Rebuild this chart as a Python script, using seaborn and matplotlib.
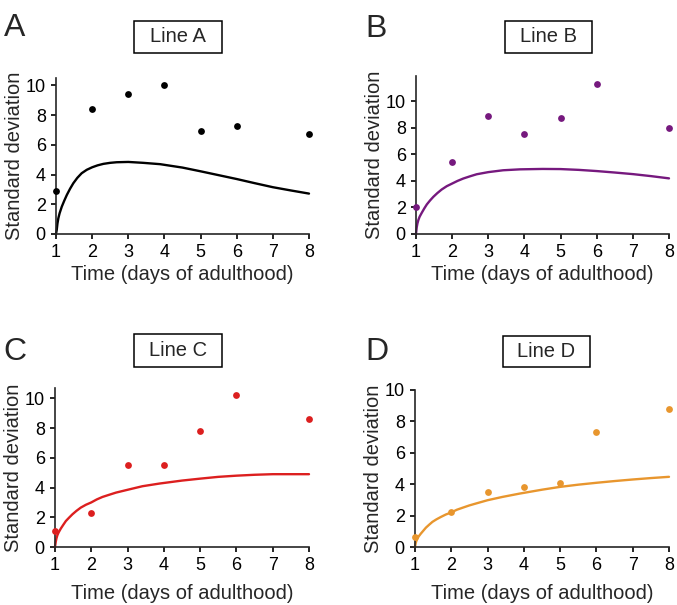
import matplotlib
matplotlib.use("Agg")
import matplotlib.pyplot as plt
from matplotlib.patches import Rectangle
import pandas as pd
import seaborn as sns

# Measured points (standard deviation per day)
days = [1, 2, 3, 4, 5, 6, 8]
sd_a = [2.9, 8.4, 9.4, 10.0, 6.9, 7.3, 6.7]
sd_b = [2.0, 5.4, 8.9, 7.5, 8.7, 11.3, 8.0]
sd_c = [1.1, 2.3, 5.5, 5.5, 7.8, 10.2, 8.6]
sd_d = [0.65, 2.2, 3.5, 3.8, 4.1, 7.3, 8.8]

# Model curves
curve_x = [1.0, 1.02, 1.04, 1.065, 1.1, 1.16, 1.23, 1.3, 1.39, 1.48, 1.59,
           1.71, 1.85, 2.0, 2.15, 2.31, 2.5, 2.68, 3.0, 3.41, 3.88, 4.5,
           5.0, 5.5, 6.0, 6.5, 7.0, 7.5, 8.0]
fit_a = [0, 0.27, 0.7, 1.06, 1.4, 1.84, 2.25, 2.63, 3.05, 3.42, 3.78,
         4.09, 4.32, 4.49, 4.62, 4.72, 4.79, 4.83, 4.85, 4.79, 4.70, 4.47,
         4.22, 3.96, 3.70, 3.42, 3.15, 2.93, 2.72]
fit_b = [0, 0.5, 0.8, 1.05, 1.3, 1.6, 1.93, 2.23, 2.53, 2.8, 3.08,
         3.35, 3.6, 3.8, 4.0, 4.18, 4.35, 4.5, 4.66, 4.8, 4.87, 4.9,
         4.89, 4.83, 4.74, 4.63, 4.51, 4.36, 4.19]
fit_c = [0, 0.34, 0.58, 0.79, 0.98, 1.24, 1.5, 1.75, 1.98, 2.2, 2.43,
         2.65, 2.84, 3.0, 3.2, 3.37, 3.52, 3.66, 3.85, 4.09, 4.27, 4.47,
         4.6, 4.72, 4.8, 4.86, 4.9, 4.9, 4.9]
fit_d = [0, 0.26, 0.4, 0.53, 0.67, 0.85, 1.04, 1.23, 1.42, 1.6, 1.76,
         1.91, 2.07, 2.2, 2.37, 2.5, 2.65, 2.77, 2.98, 3.19, 3.4, 3.65,
         3.83, 3.97, 4.09, 4.2, 4.3, 4.39, 4.47]

letters = ["A", "B", "C", "D"]
titles = ["Line A", "Line B", "Line C", "Line D"]
colors = ["#000000", "#76197e", "#dc1f1f", "#e8962e"]
points = [sd_a, sd_b, sd_c, sd_d]
fits = [fit_a, fit_b, fit_c, fit_d]
ytops = [10.5, 11.9, 10.7, 10.0]

sns.set_style("ticks")
plt.rcParams['font.family'] = ['Liberation Sans', 'DejaVu Sans']
plt.rcParams['axes.linewidth'] = 1.2
plt.rcParams['xtick.major.width'] = 1.2
plt.rcParams['ytick.major.width'] = 1.2
plt.rcParams['xtick.major.size'] = 3.8
plt.rcParams['ytick.major.size'] = 3.8

W, H = 677, 605
fig = plt.figure(figsize=(W / 100, H / 100), dpi=100)

# axes boxes in pixels: left, right, y0 (bottom), top
boxes = [(56, 309, 234, 78), (416, 669, 234, 76),
         (55, 309, 547, 388), (415, 669, 547, 390)]
# title boxes in pixels: x0, x1, y0, y1
title_boxes = [(134, 222, 21, 53), (505, 592, 21, 53),
               (134, 222, 334, 367), (503, 590, 336, 367)]
letter_pos = [(4, 36), (365, 37), (3, 360), (365, 360)]
xlabel_pads = [3, 3, 7, 7]

for i in range(4):
    l, r, b, t = boxes[i]
    ax = fig.add_axes([l / W, (H - b) / H, (r - l) / W, (b - t) / H])
    curve = pd.DataFrame({"x": curve_x, "y": fits[i]})
    pts = pd.DataFrame({"x": days, "y": points[i]})
    sns.lineplot(data=curve, x="x", y="y", ax=ax, color=colors[i],
                 linewidth=1.7, clip_on=False)
    sns.scatterplot(data=pts, x="x", y="y", ax=ax, color=colors[i], s=24,
                    linewidth=0, clip_on=False, zorder=3)
    ax.set_xlim(1, 8)
    ax.set_ylim(0, ytops[i])
    ax.set_xticks(range(1, 9))
    ax.set_yticks([0, 2, 4, 6, 8, 10])
    ax.tick_params(labelsize=13, pad=3.5, colors="black")
    ax.set_xlabel("Time (days of adulthood)", fontsize=14.5,
                  labelpad=xlabel_pads[i])
    ax.set_ylabel("Standard deviation", fontsize=14.5, labelpad=1)
    sns.despine(ax=ax)

    x0, x1, y0, y1 = title_boxes[i]
    fig.patches.append(Rectangle((x0 / W, (H - y1) / H), (x1 - x0) / W,
                                 (y1 - y0) / H, transform=fig.transFigure,
                                 fill=False, edgecolor="black", linewidth=1.1))
    fig.text((x0 + x1) / 2 / W, (H - (y0 + y1) / 2) / H, titles[i],
             ha="center", va="center", fontsize=14.5)
    lx, ly = letter_pos[i]
    fig.text(lx / W, (H - ly) / H, letters[i], ha="left", va="baseline",
             fontsize=23)

fig.savefig("out.png", dpi=100)
